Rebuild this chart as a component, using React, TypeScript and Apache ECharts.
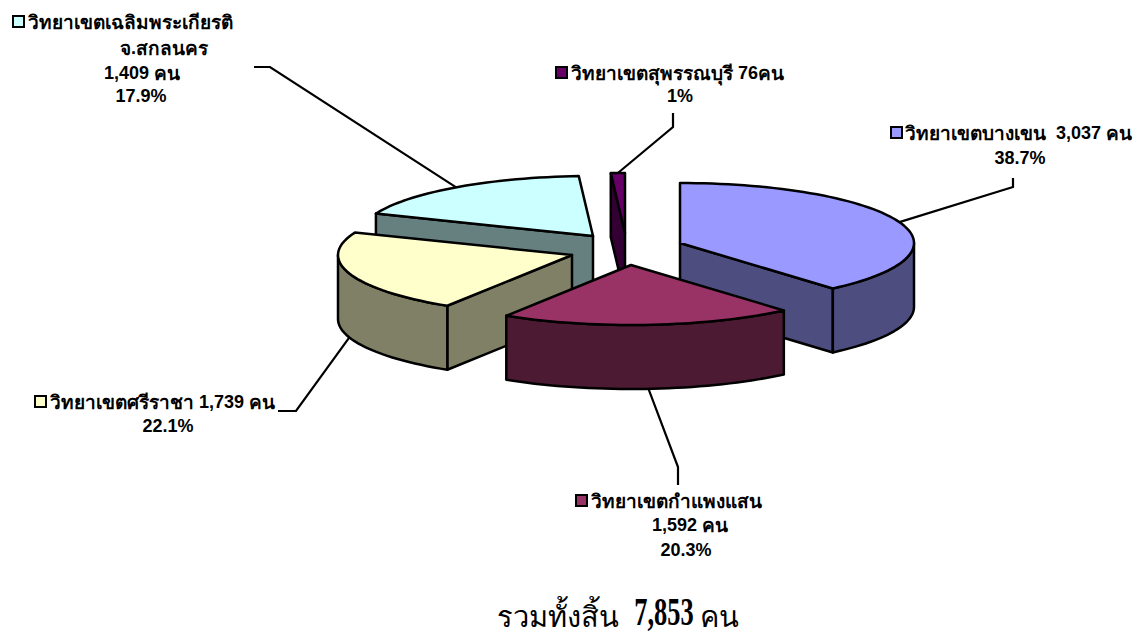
import React, { useEffect, useRef } from "react";
import * as echarts from "echarts";

const categories = ["วิทยาเขตบางเขน", "วิทยาเขตกำแพงแสน", "วิทยาเขตศรีราชา", "วิทยาเขตเฉลิมพระเกียรติ", "วิทยาเขตสุพรรณบุรี"];
const values = [3037, 1592, 1739, 1409, 76];
const percents = ["38.7%", "20.3%", "22.1%", "17.9%", "1%"];
const topColors = ["#9999FF", "#993366", "#FFFFCC", "#CCFFFF", "#660066"];
const wallColors = ["#4D4D80", "#4D1A33", "#808066", "#668080", "#330033"];
const totalLabel = "รวมทั้งสิ้น";
const totalValue = "7,853";
const unit = "คน";

// layout of the exploded 3D pie
const RX = 234, RY = 60, DEPTH = 64;
const apexes = [[680, 243], [631, 265], [572, 255], [593, 236], [625, 233]];
const leaderEnds = [[[1013, 187], [1013, 178]], [[678, 467], [678, 485]], [[296, 411], [278, 411]], [[270, 67], [254, 67]], [[673, 127], [673, 113]]];
const drawOrder = [4, 3, 2, 0, 1];
const FONT = "'Liberation Sans', Arial, 'Noto Sans', sans-serif";

const total = values.reduce((a, b) => a + b, 0);
const startAngles: number[] = [];
values.reduce((acc, v, i) => { startAngles[i] = acc; return acc + (v / total) * 360; }, 0);

function pt(i: number, deg: number, dz = 0): number[] {
  const r = (deg * Math.PI) / 180;
  return [apexes[i][0] + RX * Math.sin(r), apexes[i][1] - RY * Math.cos(r) + dz];
}
function arc(i: number, a: number, b: number, dz = 0): number[][] {
  const out: number[][] = [];
  const n = Math.max(2, Math.ceil(Math.abs(b - a) / 2));
  for (let k = 0; k <= n; k++) out.push(pt(i, a + ((b - a) * k) / n, dz));
  return out;
}

function renderItem(params: any, api: any) {
  const i = api.value(0) as number;
  const a = startAngles[i];
  const b = a + (api.value(1) / total) * 360;
  const ap = apexes[i];
  const stroke = { stroke: "#000", lineWidth: 2.5, lineJoin: "round" };
  const wall = { fill: wallColors[i], ...stroke };
  const children: any[] = [];
  const radial = (deg: number) => ({
    type: "polygon",
    shape: { points: [ap, pt(i, deg), pt(i, deg, DEPTH), [ap[0], ap[1] + DEPTH]] },
    style: wall,
  });
  if (Math.sin((a * Math.PI) / 180) < -1e-6) children.push(radial(a));
  if (Math.sin((b * Math.PI) / 180) > 1e-6) children.push(radial(b));
  const wa = Math.max(a, 90), wb = Math.min(b, 270);
  if (wb > wa) {
    children.push({
      type: "polygon",
      shape: { points: [...arc(i, wa, wb), ...arc(i, wb, wa, DEPTH)] },
      style: wall,
    });
  }
  children.push({
    type: "polygon",
    shape: { points: [ap, ...arc(i, a, b)] },
    style: { fill: topColors[i], ...stroke },
  });
  const mid = (a + b) / 2;
  const lower = mid > 90 && mid < 270;
  const start = pt(i, mid, lower ? DEPTH : 0);
  children.push({
    type: "polyline",
    shape: { points: [start, ...leaderEnds[i]] },
    style: { fill: "none", stroke: "#000", lineWidth: 2.2 },
  });
  return { type: "group", children };
}

// Thai runs are set a little larger than Latin runs, as in the reference
const richText = (text: string) =>
  (text.match(/[\u0E00-\u0E7F]+|[^\u0E00-\u0E7F]+/g) || [])
    .map((run) => (/[\u0E00-\u0E7F]/.test(run) ? `{t|${run}}` : `{n|${run}}`))
    .join("");
const bold = (text: string, x: number, y: number, align = "left") => ({
  type: "text", x, y,
  style: {
    text: richText(text),
    fill: "#000",
    textAlign: align,
    textVerticalAlign: "middle",
    rich: {
      t: { fontSize: 19, fontWeight: "bold", fontFamily: FONT, fill: "#000" },
      n: { fontSize: 18, fontWeight: "bold", fontFamily: FONT, fill: "#000" },
    },
  },
});
const key = (i: number, x: number, y: number) => ({
  type: "rect", shape: { x, y, width: 11, height: 11 },
  style: { fill: topColors[i], stroke: "#000", lineWidth: 2 },
});
const fmt = (v: number) => v.toLocaleString("en-US");

export default function App() {
  const ref = useRef<HTMLDivElement>(null);
  useEffect(() => {
    const chart = echarts.init(ref.current!, undefined, { renderer: "svg" });
    chart.setOption({
      animation: false,
      backgroundColor: "#fff",
      series: [{
        type: "custom",
        coordinateSystem: "none",
        renderItem,
        silent: true,
        data: drawOrder.map((i) => [i, values[i]]),
      }],
      graphic: [
        key(3, 13, 16),
        bold(categories[3], 28, 22),
        bold("จ.สกลนคร", 164, 48, "center"),
        bold(`${fmt(values[3])} ${unit}`, 142, 73, "center"),
        bold(percents[3], 141, 96, "center"),
        key(4, 556, 67),
        bold(`${categories[4]} ${values[4]}${unit}`, 571, 73),
        bold(percents[4], 680, 96, "center"),
        key(0, 891, 127),
        bold(`${categories[0]}  ${fmt(values[0])} ${unit}`, 905, 133),
        bold(percents[0], 1020, 158, "center"),
        key(2, 35, 396),
        bold(`${categories[2]} ${fmt(values[2])} ${unit}`, 50, 402),
        bold(percents[2], 168, 426, "center"),
        key(1, 576, 495),
        bold(categories[1], 591, 501),
        bold(`${fmt(values[1])} ${unit}`, 690, 525, "center"),
        bold(percents[1], 686, 550, "center"),
        { type: "text", x: 497, y: 617, style: { text: totalLabel, font: `29px 'Liberation Serif', serif`, fill: "#000", textVerticalAlign: "middle" } },
        { type: "text", x: 664, y: 611, scaleX: 0.66, style: { text: totalValue, font: `bold 40px 'Liberation Serif', serif`, fill: "#000", textAlign: "center", textVerticalAlign: "middle" } },
        { type: "text", x: 700, y: 617, style: { text: unit, font: `29px 'Liberation Serif', serif`, fill: "#000", textVerticalAlign: "middle" } },
      ],
    });
    return () => chart.dispose();
  }, []);
  return <div ref={ref} style={{ position: "fixed", left: 0, top: 0, width: 1138, height: 632 }} />;
}
